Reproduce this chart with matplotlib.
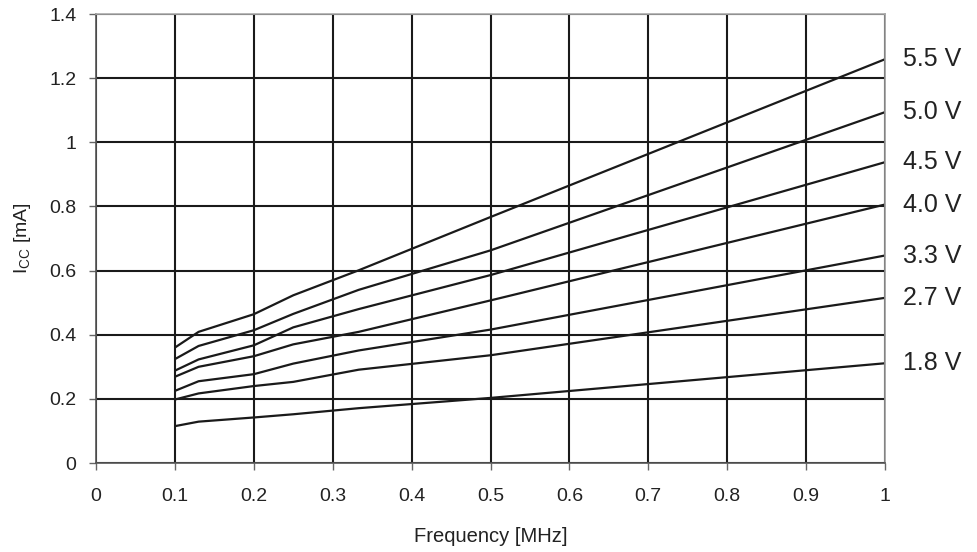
import matplotlib.pyplot as plt

plt.rcParams["font.family"] = ["Liberation Sans", "DejaVu Sans"]
plt.rcParams["mathtext.fontset"] = "custom"
plt.rcParams["mathtext.rm"] = "Liberation Sans"

# ========================
# DATA
# ========================
freq = [0.1, 0.13, 0.2, 0.25, 0.333, 0.5, 1.0]

icc_55 = [0.360, 0.409, 0.464, 0.523, 0.601, 0.767, 1.259]
icc_50 = [0.324, 0.365, 0.414, 0.465, 0.540, 0.663, 1.094]
icc_45 = [0.288, 0.323, 0.367, 0.423, 0.480, 0.586, 0.938]
icc_40 = [0.269, 0.300, 0.333, 0.370, 0.409, 0.507, 0.806]
icc_33 = [0.225, 0.255, 0.277, 0.310, 0.351, 0.416, 0.647]
icc_27 = [0.198, 0.217, 0.240, 0.253, 0.291, 0.336, 0.515]
icc_18 = [0.115, 0.129, 0.142, 0.152, 0.171, 0.203, 0.311]

series = [icc_55, icc_50, icc_45, icc_40, icc_33, icc_27, icc_18]
labels = ["5.5 V", "5.0 V", "4.5 V", "4.0 V", "3.3 V", "2.7 V", "1.8 V"]

x_ticks = [0, 0.1, 0.2, 0.3, 0.4, 0.5, 0.6, 0.7, 0.8, 0.9, 1]
x_ticklabels = ["0", "0.1", "0.2", "0.3", "0.4", "0.5", "0.6", "0.7", "0.8", "0.9", "1"]
y_ticks = [0, 0.2, 0.4, 0.6, 0.8, 1.0, 1.2, 1.4]
y_ticklabels = ["0", "0.2", "0.4", "0.6", "0.8", "1", "1.2", "1.4"]

# ========================
# PLOT
# ========================
fig = plt.figure(figsize=(9.77, 5.52), dpi=100)
ax = fig.add_axes([0.0983, 0.1612, 0.8075, 0.8134])

ax.set_xlim(0, 1)
ax.set_ylim(0, 1.4)
ax.set_xticks(x_ticks)
ax.set_xticklabels(x_ticklabels)
ax.set_yticks(y_ticks)
ax.set_yticklabels(y_ticklabels)

ax.grid(True, color="#1a1a1a", linewidth=1.5)
ax.set_axisbelow(True)

for vals, lab in zip(series, labels):
    ax.plot(freq, vals, color="#1a1a1a", linewidth=1.6, solid_capstyle="butt")
    ax.annotate(lab, xy=(freq[-1], vals[-1]), xytext=(13, 0),
                textcoords="offset points", ha="left", va="center",
                fontsize=18, color="#222222", annotation_clip=False)

ax.spines["left"].set_color("#555555")
ax.spines["bottom"].set_color("#555555")
ax.spines["top"].set_color("#aaaaaa")
ax.spines["right"].set_color("#999999")
for s in ax.spines.values():
    s.set_linewidth(1.2)

ax.tick_params(axis="both", direction="out", length=5, width=1,
               color="#666666", labelsize=14, labelcolor="#222222")
ax.tick_params(axis="y", pad=9)
ax.tick_params(axis="x", pad=13)

ax.set_xlabel("Frequency [MHz]", fontsize=14.5, color="#222222")
ax.xaxis.set_label_coords(0.5, -0.142)
ax.set_ylabel("I$_{\\mathregular{CC}}$ [mA]", fontsize=14, color="#222222")
ax.yaxis.set_label_coords(-0.08, 0.5)

plt.savefig("out.png", dpi=100)
plt.close()
